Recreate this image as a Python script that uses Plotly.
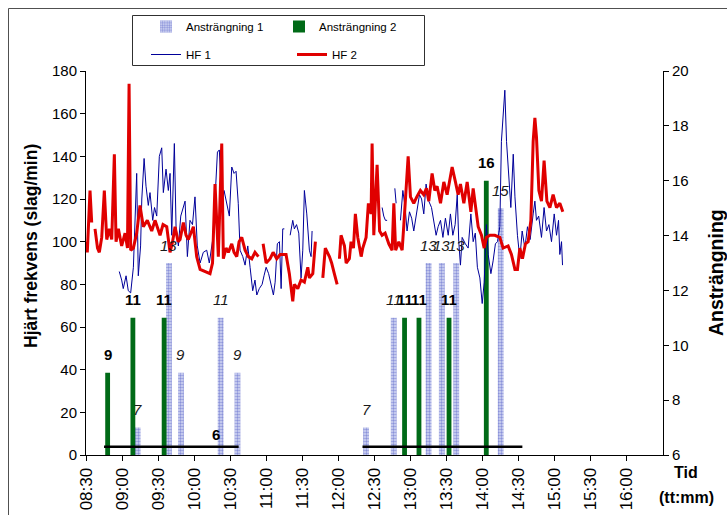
import pandas as pd
import plotly.graph_objects as go

DAY = "2000-01-01 "

# ---------------- data ----------------
x_tick_labels = ["08:30", "09:00", "09:30", "10:00", "10:30", "11:00", "11:30", "12:00",
                 "12:30", "13:00", "13:30", "14:00", "14:30", "15:00", "15:30", "16:00"]
x_start, x_end = "08:30", "16:30"

ans1_times = ["09:13", "09:39", "09:49", "10:22", "10:36", "12:23", "12:46", "13:15", "13:26", "13:38", "14:15"]
ans1_values = [7, 13, 9, 11, 9, 7, 11, 13, 13, 13, 15]

ans2_times = ["08:48", "09:09", "09:35", "12:55", "13:07", "13:32", "14:03"]
ans2_values = [9, 11, 11, 11, 11, 11, 16]

rest_starts = ["08:45", "12:20"]
rest_ends = ["10:37", "14:33"]
rest_level = 6.3
rest_label = "6"
rest_label_time = "10:18"

hf1_times = ["08:57:40", "08:59:40", "09:01:00", "09:03:20", "09:05:10", "09:07:10", "09:09:25", "09:10:50",
             "09:12:10", "09:13:30", "09:15:25", "09:16:25", "09:18:20", "09:19:55", "09:21:50", "09:23:15",
             "09:25:30", "09:27:00", "09:28:50", "09:31:00", "09:33:00", "09:34:20", "09:36:35", "09:38:30",
             "09:39:55", "09:41:20", "09:43:30", "09:44:55", "09:46:50", "09:48:50", "09:51:00", "09:52:25",
             "09:54:20", "09:56:30", "09:58:35", "10:00:40", "10:02:35", "10:04:55", "10:07:35", "10:10:25",
             "10:12:35", "10:15:25", "10:17:20", "10:19:20", "10:20:55", "10:22:55", "10:24:50", "10:27:05",
             "10:29:15", "10:31:15", "10:33:10", "10:34:50", "10:36:40", "10:38:10", "10:40:25", "10:42:20",
             "10:44:35", "10:46:30", "10:48:40", "10:50:35", "10:52:05", "10:54:10", "10:56:30", "10:58:05",
             "10:59:50", "11:01:55", "11:04:00", "11:05:55", "11:07:20", "11:09:10", "11:10:55", "11:12:20",
             "11:13:40", "11:15:00", "11:17:00", "11:19:50", "11:22:00", "11:23:20", "11:25:10", "11:27:00",
             "11:28:55", "11:30:20", "11:31:40", "11:33:40", "11:35:50", "11:37:15", "11:38:05", "12:00:00",
             "12:36:20", "12:37:40", "12:39:05", "12:40:30", "12:43:00", "12:46:55", "12:48:00", "12:50:00",
             "12:51:35", "12:53:35", "12:55:30", "12:57:05", "12:59:05", "13:00:55", "13:02:40", "13:05:30",
             "13:07:25", "13:09:10", "13:11:00", "13:12:55", "13:15:10", "13:17:25", "13:19:10", "13:21:15",
             "13:22:55", "13:24:55", "13:26:55", "13:29:00", "13:31:20", "13:33:10", "13:35:10", "13:37:05",
             "13:38:50", "13:40:05", "13:41:30", "13:42:55", "13:45:35", "13:47:55", "13:50:10", "13:52:05",
             "13:53:50", "13:55:35", "13:57:40", "13:59:35", "14:01:15", "14:03:05", "14:04:35", "14:06:50",
             "14:08:40", "14:10:35", "14:12:20", "14:14:15", "14:15:35", "14:17:00", "14:18:25", "14:19:50",
             "14:21:50", "14:23:25", "14:25:25", "14:26:50", "14:28:55", "14:30:55", "14:32:50", "14:35:05",
             "14:37:15", "14:39:30", "14:42:00", "14:43:25", "14:44:45", "14:46:35", "14:48:55", "14:51:05",
             "14:53:05", "14:55:05", "14:57:15", "14:59:30", "15:01:25", "15:03:05", "15:04:10", "15:05:35",
             "15:06:25"]
hf1_values = [86, 82, 78, 84, 77, 76, 88, 117,
              132, 84, 98, 120, 139, 126, 117, 123,
              110, 116, 112, 140, 144, 123, 134, 124,
              132, 103, 146, 107, 98, 112, 117, 119,
              93, 110, 108, 121, 98, 90, 95, 96,
              90, 101, 120, 142, 143, 118, 124, 117,
              112, 135, 132, 133, 118, 96, 93, 89,
              98, 88, 77, 82, 75, 78, 80, 84,
              88, 85, 80, 75, 81, 99, 100, 78,
              106, 106, None, 103, 110, 106, 108, 104,
              83, 96, 124, 113, 96, 93, 105, None,
              116, 112, 110, 110, None, 125, 118, None,
              110, 124, 116, 105, 114, 111, 105, 114,
              122, 120, 113, 127, 119, 116, 110, 103,
              107, 110, 102, 111, 103, 113, 103, 108,
              122, 100, 89, 102, 99, 97, 113, 100,
              104, 88, 83, 71, 81, 108, 94, 85,
              91, 99, 100, 107, 147, 160, 171, 147,
              132, 116, 141, 121, 103, 92, 105, 97,
              107, 101, 113, 119, 110, 112, 102, 116,
              105, 108, 100, 113, 103, 110, 94, 100,
              89]

hf2_times = ["08:30:00", "08:31:05", "08:33:20", "08:34:45", "08:36:00", "08:37:30", "08:39:35", "08:41:05",
             "08:43:05", "08:45:15", "08:47:15", "08:49:25", "08:51:25", "08:53:35", "08:55:00", "08:56:55",
             "08:59:40", "09:02:30", "09:04:30", "09:05:50", "09:07:10", "09:09:25", "09:12:10", "09:14:55",
             "09:17:40", "09:21:00", "09:24:40", "09:27:25", "09:31:35", "09:34:05", "09:37:10", "09:39:55",
             "09:42:00", "09:44:05", "09:46:35", "09:48:15", "09:51:00", "09:53:15", "09:55:10", "09:59:20",
             "10:02:05", "10:04:55", "10:09:00", "10:13:10", "10:15:15", "10:17:20", "10:20:05", "10:22:55",
             "10:24:15", "10:26:30", "10:28:25", "10:31:15", "10:33:10", "10:35:25", "10:37:20", "10:39:35",
             "10:42:20", "10:45:05", "10:47:55", "10:50:35", "10:53:25", "10:55:00", "10:57:20", "10:59:50",
             "11:03:10", "11:05:40", "11:08:40", "11:11:25", "11:16:25", "11:19:10", "11:22:00", "11:23:20",
             "11:26:10", "11:28:55", "11:31:40", "11:34:30", "11:35:50", "11:38:40", "11:40:50", "11:44:00",
             "11:47:00", "11:49:05", "11:52:30", "11:54:20", "11:56:35", "11:58:55", "12:00:00", "12:00:50",
             "12:02:10", "12:05:00", "12:06:25", "12:09:05", "12:10:30", "12:12:30", "12:14:05", "12:16:05",
             "12:18:55", "12:20:15", "12:23:00", "12:24:55", "12:27:10", "12:28:00", "12:29:25", "12:32:10",
             "12:34:15", "12:36:20", "12:38:50", "12:41:55", "12:44:40", "12:46:05", "12:47:35", "12:50:15",
             "12:53:00", "12:54:25", "12:55:45", "12:58:00", "12:59:55", "13:02:40", "13:05:10", "13:08:10",
             "13:11:00", "13:13:10", "13:15:10", "13:17:55", "13:20:10", "13:22:05", "13:24:55", "13:27:40",
             "13:30:25", "13:34:35", "13:37:20", "13:39:35", "13:41:30", "13:44:20", "13:47:05", "13:49:00",
             "13:50:10", "13:52:05", "13:54:00", "13:56:15", "13:59:00", "14:01:15", "14:03:05", "14:06:00",
             "14:10:05", "14:14:15", "14:17:00", "14:21:10", "14:23:55", "14:26:50", "14:28:55", "14:30:55",
             "14:33:05", "14:35:35", "14:37:50", "14:40:05", "14:42:00", "14:43:25", "14:44:45", "14:46:45",
             "14:48:55", "14:51:05", "14:53:25", "14:55:55", "14:58:35", "15:01:25", "15:04:10", "15:06:40"]
hf2_values = [100, 95, 124, 109, None, 106, 97, 95,
              102, 124, 101, 106, 101, 141, 100, 106,
              98, 104, 97, 174, 96, 97, 104, 117,
              107, 110, 105, 110, 103, 108, 107, 95,
              100, 107, 100, 101, 109, 103, 101, 107,
              93, 87, 86, 85, 90, 127, 93, 146,
              92, 97, 95, 99, 95, 93, 100, 102,
              96, 93, 92, 95, 93, None, 99, 90,
              92, 95, 92, 94, 94, 85, 72, 80,
              78, 82, 81, 88, 83, 85, 100, None,
              83, 97, 93, 90, 85, 80, None, 92,
              103, 98, 90, 92, 100, 97, 113, 102,
              93, 97, 102, 118, 113, 146, 103, 136,
              105, 103, 104, 99, 96, 118, 96, 100,
              96, 108, 122, 140, 121, 118, 121, 124,
              122, 125, 119, 132, 124, 126, 118, 128,
              122, 135, 128, 122, 127, 118, 128, 119,
              114, 125, 116, 107, 103, 97, 102, 103,
              103, 102, 97, 98, 94, 87, 87, 97,
              92, 99, 100, 110, 147, 158, 149, 124,
              119, 138, 119, 116, 122, 116, 118, 114]


def ts(values):
    return [pd.Timestamp(DAY + v) for v in values]


FONT = "Liberation Sans, Arial, sans-serif"

fig = go.Figure()

# bars (exertion, right axis 'y')
fig.add_trace(go.Bar(
    x=ts(ans1_times), y=ans1_values, yaxis="y", name="Ansträngning 1",
    width=[290000] * len(ans1_values),
    marker=dict(color="#D6D9F4", line=dict(width=0),
                pattern=dict(shape=".", fgcolor="#3F4BBE", size=3, solidity=0.5)),
    legend="legend"))
fig.add_trace(go.Bar(
    x=ts(ans2_times), y=ans2_values, yaxis="y", name="Ansträngning 2",
    width=[240000] * len(ans2_values),
    marker=dict(color="#006A17", line=dict(width=0)),
    legend="legend"))

# rest periods (black line)
rx, ry = [], []
for s, e in zip(rest_starts, rest_ends):
    rx += [pd.Timestamp(DAY + s), pd.Timestamp(DAY + e), None]
    ry += [rest_level, rest_level, None]
fig.add_trace(go.Scatter(x=rx, y=ry, yaxis="y", mode="lines",
                         line=dict(color="black", width=2.5), showlegend=False, hoverinfo="skip"))

# heart-rate lines (left axis 'y2', drawn on top)
fig.add_trace(go.Scatter(x=ts(hf1_times), y=hf1_values, yaxis="y2", mode="lines", name="HF 1",
                         line=dict(color="#000099", width=1), legend="legend2"))
fig.add_trace(go.Scatter(x=ts(hf2_times), y=hf2_values, yaxis="y2", mode="lines", name="HF 2",
                         line=dict(color="#E00000", width=3), legend="legend2"))

annotations = []
for tm, v in zip(ans1_times, ans1_values):
    annotations.append(dict(x=pd.Timestamp(DAY + tm), y=v, xref="x", yref="y", text=f"<i>{v}</i>",
                            showarrow=False, yshift=18, xanchor="center", yanchor="middle",
                            font=dict(family=FONT, size=15, color="#1a1a1a")))
for tm, v in zip(ans2_times, ans2_values):
    annotations.append(dict(x=pd.Timestamp(DAY + tm), y=v, xref="x", yref="y", text=f"<b>{v}</b>",
                            showarrow=False, yshift=18, xanchor="center", yanchor="middle",
                            font=dict(family=FONT, size=15, color="black")))
annotations.append(dict(x=pd.Timestamp(DAY + rest_label_time), y=rest_level, xref="x", yref="y",
                        text=f"<b>{rest_label}</b>", showarrow=False, yshift=12,
                        xanchor="center", yanchor="middle",
                        font=dict(family=FONT, size=15, color="black")))

W, H = 727, 515
ML, MR, MT, MB = 86, 64, 71, 60
PW, PH = W - ML - MR, H - MT - MB


def px(xp):
    return (xp - ML) / PW


def py(yp):
    return (H - MB - yp) / PH


annotations += [
    dict(x=px(31), y=py(246), xref="paper", yref="paper", text="<b>Hjärt frekvens (slag/min)</b>",
         textangle=-90, showarrow=False, xanchor="center", yanchor="middle",
         font=dict(family=FONT, size=17.5, color="black")),
    dict(x=px(716), y=py(272), xref="paper", yref="paper", text="<b>Ansträngning</b>",
         textangle=-90, showarrow=False, xanchor="center", yanchor="middle",
         font=dict(family=FONT, size=19.5, color="black")),
    dict(x=px(686), y=py(472), xref="paper", yref="paper", text="<b>Tid</b>",
         showarrow=False, xanchor="center", yanchor="middle",
         font=dict(family=FONT, size=16, color="black")),
    dict(x=px(686), y=py(497), xref="paper", yref="paper", text="<b>(tt:mm)</b>",
         showarrow=False, xanchor="center", yanchor="middle",
         font=dict(family=FONT, size=16, color="black")),
]

shapes = [
    dict(type="rect", xref="paper", yref="paper", x0=px(8.5), x1=px(760), y0=py(560), y1=py(8.5),
         line=dict(color="#505050", width=1), fillcolor="rgba(0,0,0,0)"),
    dict(type="rect", xref="paper", yref="paper", x0=px(132.5), x1=px(424.5), y0=py(65.5), y1=py(15.5),
         line=dict(color="#303030", width=1), fillcolor="rgba(0,0,0,0)"),
]

axis_common = dict(showline=True, linecolor="black", linewidth=1, showgrid=False, zeroline=False,
                   ticks="outside", ticklen=5, tickcolor="black",
                   tickfont=dict(family=FONT, size=15, color="black"))

fig.update_layout(
    width=W, height=H,
    margin=dict(l=ML, r=MR, t=MT, b=MB, autoexpand=False),
    paper_bgcolor="white", plot_bgcolor="white",
    barmode="overlay",
    xaxis=dict(type="date", range=[pd.Timestamp(DAY + x_start), pd.Timestamp(DAY + x_end)],
               tickvals=ts(x_tick_labels), ticktext=x_tick_labels, tickangle=-90,
               **{**axis_common, "tickfont": dict(family=FONT, size=17, color="black")}),
    yaxis=dict(side="right", range=[6, 20], tick0=6, dtick=2, **axis_common),
    yaxis2=dict(overlaying="y", side="left", range=[0, 180], tick0=0, dtick=20, **axis_common),
    legend=dict(orientation="h", x=px(146), y=py(12), xanchor="left", yanchor="top",
                entrywidth=88, bgcolor="rgba(0,0,0,0)", borderwidth=0,
                font=dict(family=FONT, size=11.5, color="black")),
    legend2=dict(orientation="h", x=px(146), y=py(40), xanchor="left", yanchor="top",
                 entrywidth=101, bgcolor="rgba(0,0,0,0)", borderwidth=0,
                 font=dict(family=FONT, size=11.5, color="black")),
    annotations=annotations,
    shapes=shapes,
    showlegend=True,
)

fig.write_html("out.html")
